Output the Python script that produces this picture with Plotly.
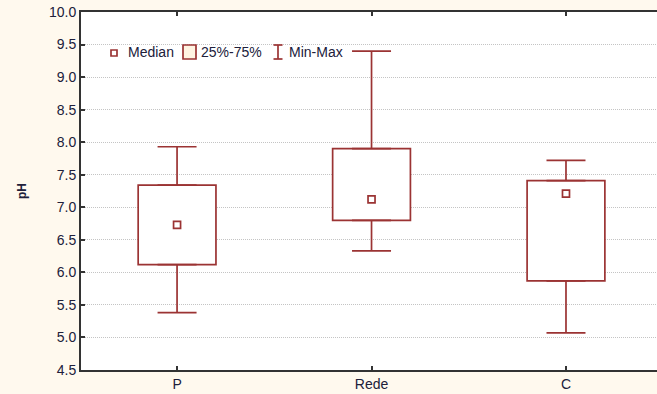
import plotly.graph_objects as go

categories = ["P", "Rede", "C"]
v_min = [5.38, 6.33, 5.07]
v_q1 = [6.12, 6.80, 5.87]
v_median = [6.73, 7.12, 7.21]
v_q3 = [7.34, 7.90, 7.41]
v_max = [7.93, 9.40, 7.72]
y_ticks = [4.5, 5.0, 5.5, 6.0, 6.5, 7.0, 7.5, 8.0, 8.5, 9.0, 9.5, 10.0]
legend_labels = ["Median", "25%-75%", "Min-Max"]

RED = "#9B3333"
BG = "#FFF9EE"
TXT = "#20203a"
FONT = "Liberation Sans, Arial, sans-serif"

W, H = 657, 394
ML, MR, MT, MB = 81, 0, 12, 24
PW, PH = W - ML - MR, H - MT - MB


def px(xp):
    return (xp - ML) / PW


def py(yp):
    return (H - MB - yp) / PH


fig = go.Figure()

fig.add_trace(go.Bar(
    x=categories, base=v_q1, y=[q3 - q1 for q1, q3 in zip(v_q1, v_q3)],
    width=0.4, marker=dict(color="white", line=dict(color=RED, width=1.7)),
    name=legend_labels[1], hoverinfo="skip",
))
fig.add_trace(go.Scatter(
    x=categories, y=v_q3, mode="markers", marker=dict(size=0.1, color=RED, opacity=0),
    error_y=dict(type="data", symmetric=False,
                 array=[mx - q3 for mx, q3 in zip(v_max, v_q3)],
                 arrayminus=[0, 0, 0], color=RED, thickness=1.7, width=19.5),
    hoverinfo="skip",
))
fig.add_trace(go.Scatter(
    x=categories, y=v_q1, mode="markers", marker=dict(size=0.1, color=RED, opacity=0),
    error_y=dict(type="data", symmetric=False, array=[0, 0, 0],
                 arrayminus=[q1 - mn for q1, mn in zip(v_q1, v_min)],
                 color=RED, thickness=1.7, width=19.5),
    hoverinfo="skip",
))
fig.add_trace(go.Scatter(
    x=categories, y=v_median, mode="markers", name=legend_labels[0],
    marker=dict(symbol="square-open", size=7, color=RED, line=dict(color=RED, width=1.7)),
))

# manual legend (layout decoration)
shapes = []
ann = []
ly = 52
shapes.append(dict(type="rect", xref="paper", yref="paper",
                   x0=px(111), x1=px(117), y0=py(56), y1=py(50),
                   line=dict(color=RED, width=1.7), fillcolor="white"))
ann.append(dict(x=px(126), y=py(ly), xref="paper", yref="paper", text=legend_labels[0],
                showarrow=False, xanchor="left", yanchor="middle"))
shapes.append(dict(type="rect", xref="paper", yref="paper",
                   x0=px(183), x1=px(196), y0=py(59), y1=py(45),
                   line=dict(color=RED, width=1.7), fillcolor="#FFF4E2"))
ann.append(dict(x=px(199), y=py(ly), xref="paper", yref="paper", text=legend_labels[1],
                showarrow=False, xanchor="left", yanchor="middle"))
for s in [dict(x0=278, x1=278, y0=45, y1=59), dict(x0=273.5, x1=282.5, y0=45, y1=45),
          dict(x0=273.5, x1=282.5, y0=59, y1=59)]:
    shapes.append(dict(type="line", xref="paper", yref="paper",
                       x0=px(s["x0"]), x1=px(s["x1"]), y0=py(s["y0"]), y1=py(s["y1"]),
                       line=dict(color=RED, width=1.7)))
ann.append(dict(x=px(287), y=py(ly), xref="paper", yref="paper", text=legend_labels[2],
                showarrow=False, xanchor="left", yanchor="middle"))

fig.update_layout(
    width=W, height=H,
    margin=dict(l=ML, r=MR, t=MT, b=MB),
    paper_bgcolor=BG,
    plot_bgcolor="white",
    font=dict(family=FONT, size=14, color=TXT),
    barmode="overlay",
    showlegend=False,
    shapes=shapes,
    annotations=ann,
)

fig.update_xaxes(
    type="category", range=[-0.494, 2.468],
    showline=True, linecolor="#333", linewidth=2, mirror="ticks",
    ticks="inside", ticklen=4, tickcolor="#333", tickwidth=1.5,
    showgrid=False, tickfont=dict(size=14, color=TXT),
)
fig.update_yaxes(
    range=[4.5, 10.0], tickvals=y_ticks, tickformat=".1f",
    showline=True, linecolor="#333", linewidth=2,
    ticks="inside", ticklen=4, tickcolor="#333", tickwidth=1.5,
    showgrid=True, gridcolor="#c4c4c4", griddash="1px,1px", gridwidth=1,
    zeroline=False, tickfont=dict(size=14, color=TXT),
    title=dict(text="<b>pH</b>", font=dict(size=12, color=TXT), standoff=20),
)

fig.write_html(
    "out.html",
    config={"displayModeBar": False},
    post_script="document.body.style.margin='0';document.body.style.background='" + BG + "';",
)
